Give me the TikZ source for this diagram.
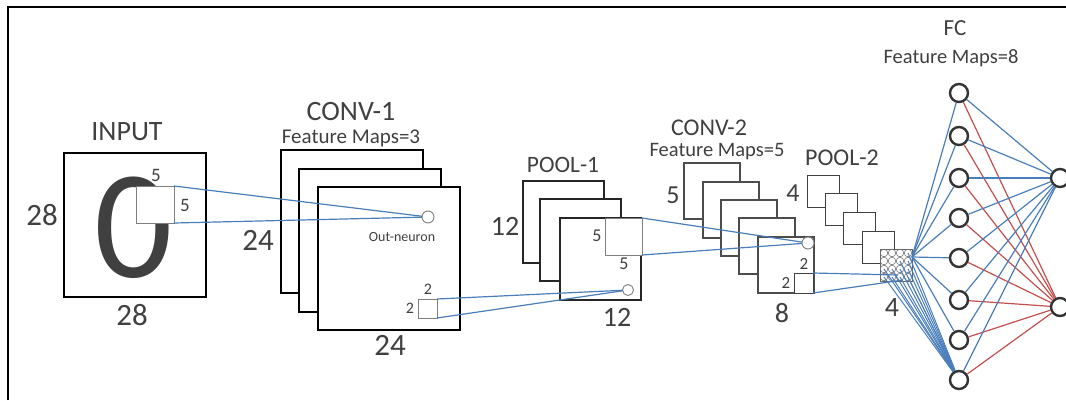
\documentclass[tikz,border=0pt]{standalone}
\usepackage{fontspec}
\setmainfont{Carlito}
\definecolor{txt}{HTML}{404040}
\definecolor{lblue}{HTML}{4A7EBB}
\definecolor{lred}{HTML}{C0504D}
\definecolor{sqgray}{HTML}{7F7F7F}
\newcommand{\myfs}[1]{\fontsize{#1}{#1}\selectfont}
\begin{document}
\begin{tikzpicture}[x=1pt,y=-1pt,
  lbl/.style={text=txt, inner sep=0pt},
  boxbase/.style={rectangle, fill=white, anchor=north west, inner sep=0pt, outer sep=0pt},
  fmA/.style={boxbase, draw=black, line width=2pt},
  fmB/.style={boxbase, draw=black!85, line width=1.3pt},
  fmC/.style={boxbase, draw=black!70, line width=1.1pt},
  fmD/.style={boxbase, draw=black!75, line width=1pt},
  win/.style={boxbase, draw=sqgray, line width=1pt},
  oneuron/.style={circle, draw=sqgray, fill=white, line width=0.9pt, inner sep=0pt, outer sep=0pt},
  fcn/.style={circle, draw=black!80, fill=white, line width=2.4pt, inner sep=0pt, minimum size=18pt},
  bl/.style={draw=lblue, line width=1.2pt},
  rl/.style={draw=lred, line width=1.2pt}
]
\useasboundingbox (0,0) rectangle (1066,400);
\draw[line width=2.5pt] (8,400) -- (8,7) -- (1066,7);

% INPUT
\node[fmA, minimum width=142, minimum height=144] (inbox) at (64,153) {};
\node[lbl, text=black!75, font=\myfs{155}] (zero) at (133.5,228) {0};
\node[win, minimum width=38, minimum height=37] (in5) at (136,186) {};
\node[lbl, font=\myfs{28}] (tin) at (127,132) {INPUT};
\node[lbl, font=\myfs{31}] (in28l) at (42,215) {28};
\node[lbl, font=\myfs{31}] (in28b) at (132,315) {28};
\node[lbl, font=\myfs{19}] (in5t) at (156,175) {5};
\node[lbl, font=\myfs{19}] (in5r) at (185,205) {5};

% CONV-1
\node[fmA, minimum width=142, minimum height=143] (c1a) at (281,150) {};
\node[fmA, minimum width=142, minimum height=143] (c1b) at (299,169) {};
\node[fmA, minimum width=142, minimum height=143] (c1c) at (318,187) {};
\node[lbl, font=\myfs{28}] (tc1) at (351,112) {CONV-1};
\node[lbl, font=\myfs{21}] (tc1f) at (351,138) {Feature Maps=3};
\node[lbl, font=\myfs{31}] (c124l) at (258,240) {24};
\node[lbl, font=\myfs{31}] (c124b) at (390,345) {24};
\node[oneuron, minimum size=12pt] (o1) at (428,217) {};
\node[lbl, font=\myfs{14}] (tout) at (402,237) {Out-neuron};
\node[win, minimum width=19, minimum height=19] (s2a) at (418,299) {};
\node[lbl, font=\myfs{16}] (s2at) at (428,289) {2};
\node[lbl, font=\myfs{16}] (s2al) at (410,308) {2};

% POOL-1
\node[fmB, minimum width=81, minimum height=82] (p1a) at (523,181) {};
\node[fmB, minimum width=81, minimum height=82] (p1b) at (540,199) {};
\node[fmB, minimum width=81, minimum height=82] (p1c) at (560,218) {};
\node[lbl, font=\myfs{23.5}] (tp1) at (563,165) {POOL-1};
\node[lbl, font=\myfs{28}] (p112l) at (505,226) {12};
\node[lbl, font=\myfs{28}] (p112b) at (617,317) {12};
\node[win, minimum width=37, minimum height=37] (s5b) at (605,218) {};
\node[lbl, font=\myfs{18}] (s5bl) at (597,236) {5};
\node[lbl, font=\myfs{18}] (s5bb) at (624,264) {5};
\node[oneuron, minimum size=11pt] (o2) at (628,290) {};

% CONV-2
\node[fmC, minimum width=56, minimum height=56] (c2a) at (684,163) {};
\node[fmC, minimum width=56, minimum height=56] (c2b) at (703,182) {};
\node[fmC, minimum width=56, minimum height=56] (c2c) at (721,200) {};
\node[fmC, minimum width=56, minimum height=56] (c2d) at (739,218) {};
\node[fmC, minimum width=56, minimum height=56] (c2e) at (758,237) {};
\node[lbl, font=\myfs{24}] (tc2) at (709,128) {CONV-2};
\node[lbl, font=\myfs{20.5}] (tc2f) at (717,152) {Feature Maps=5};
\node[lbl, font=\myfs{26}] (c25l) at (673,195) {5};
\node[lbl, font=\myfs{28}] (c28b) at (782,313) {8};
\node[win, draw=black!75, minimum width=19, minimum height=20] (s2c) at (794,273) {};
\node[lbl, font=\myfs{17}] (s2ct) at (804,264) {2};
\node[lbl, font=\myfs{17}] (s2cl) at (786,283) {2};
\node[oneuron, minimum size=12pt] (o3) at (808,243) {};

% POOL-2
\node[fmD, minimum width=32, minimum height=32] (p2a) at (807,175) {};
\node[fmD, minimum width=32, minimum height=32] (p2b) at (825,193) {};
\node[fmD, minimum width=32, minimum height=32] (p2c) at (843,212) {};
\node[fmD, minimum width=32, minimum height=32] (p2d) at (862,231) {};
\node[win, draw=black!60, minimum width=32, minimum height=32] (grid) at (880,249) {};
\foreach \i in {0,...,3}{\foreach \j in {0,...,3}{
  \node[circle, draw=black!55, line width=0.6pt, inner sep=0pt, minimum size=7.6pt] (gc\i\j) at (884+8*\i,253+8*\j) {};
}}
\node[lbl, font=\myfs{24}] (tp2) at (842,158) {POOL-2};
\node[lbl, font=\myfs{26}] (p24l) at (793,193) {4};
\node[lbl, font=\myfs{28}] (p24b) at (892,308) {4};

% FC
\node[lbl, font=\myfs{23}] (tfc) at (955,28) {FC};
\node[lbl, font=\myfs{20.5}] (tfcf) at (951,58) {Feature Maps=8};
\foreach \k/\yy in {1/93,2/136,3/178,4/218,5/258,6/300,7/340,8/380}{
  \node[fcn] (f\k) at (959,\yy) {};
}
\node[fcn] (out1) at (1060,178) {};
\node[fcn] (out2) at (1060,307) {};

% connectors
\draw[bl] (in5.north east) -- (o1);
\draw[bl] (in5.south east) -- (o1);
\draw[bl] (s2a.north east) -- (o2);
\draw[bl] (s2a.south east) -- (o2);
\draw[bl] (s5b.north east) -- (o3);
\draw[bl] (s5b.south east) -- (o3);
\coordinate (g1) at (898,275);
\coordinate (g2) at (903,280);
\draw[bl] (s2c.north east) -- (g1);
\draw[bl] (s2c.south east) -- (g2);
\coordinate (gr) at (912,257);
\foreach \k in {1,...,7}{\draw[bl] (gr) -- (f\k);}
\foreach \n in {gc02,gc12,gc22,gc32,gc03,gc13,gc23,gc33,gc31,gc30,gc21}{
  \draw[bl, line width=1pt] (\n.center) -- (f8);
}
\foreach \k in {1,...,8}{
  \draw[bl] (f\k) -- (out1);
  \draw[rl] (f\k) -- (out2);
}
\end{tikzpicture}
\end{document}
